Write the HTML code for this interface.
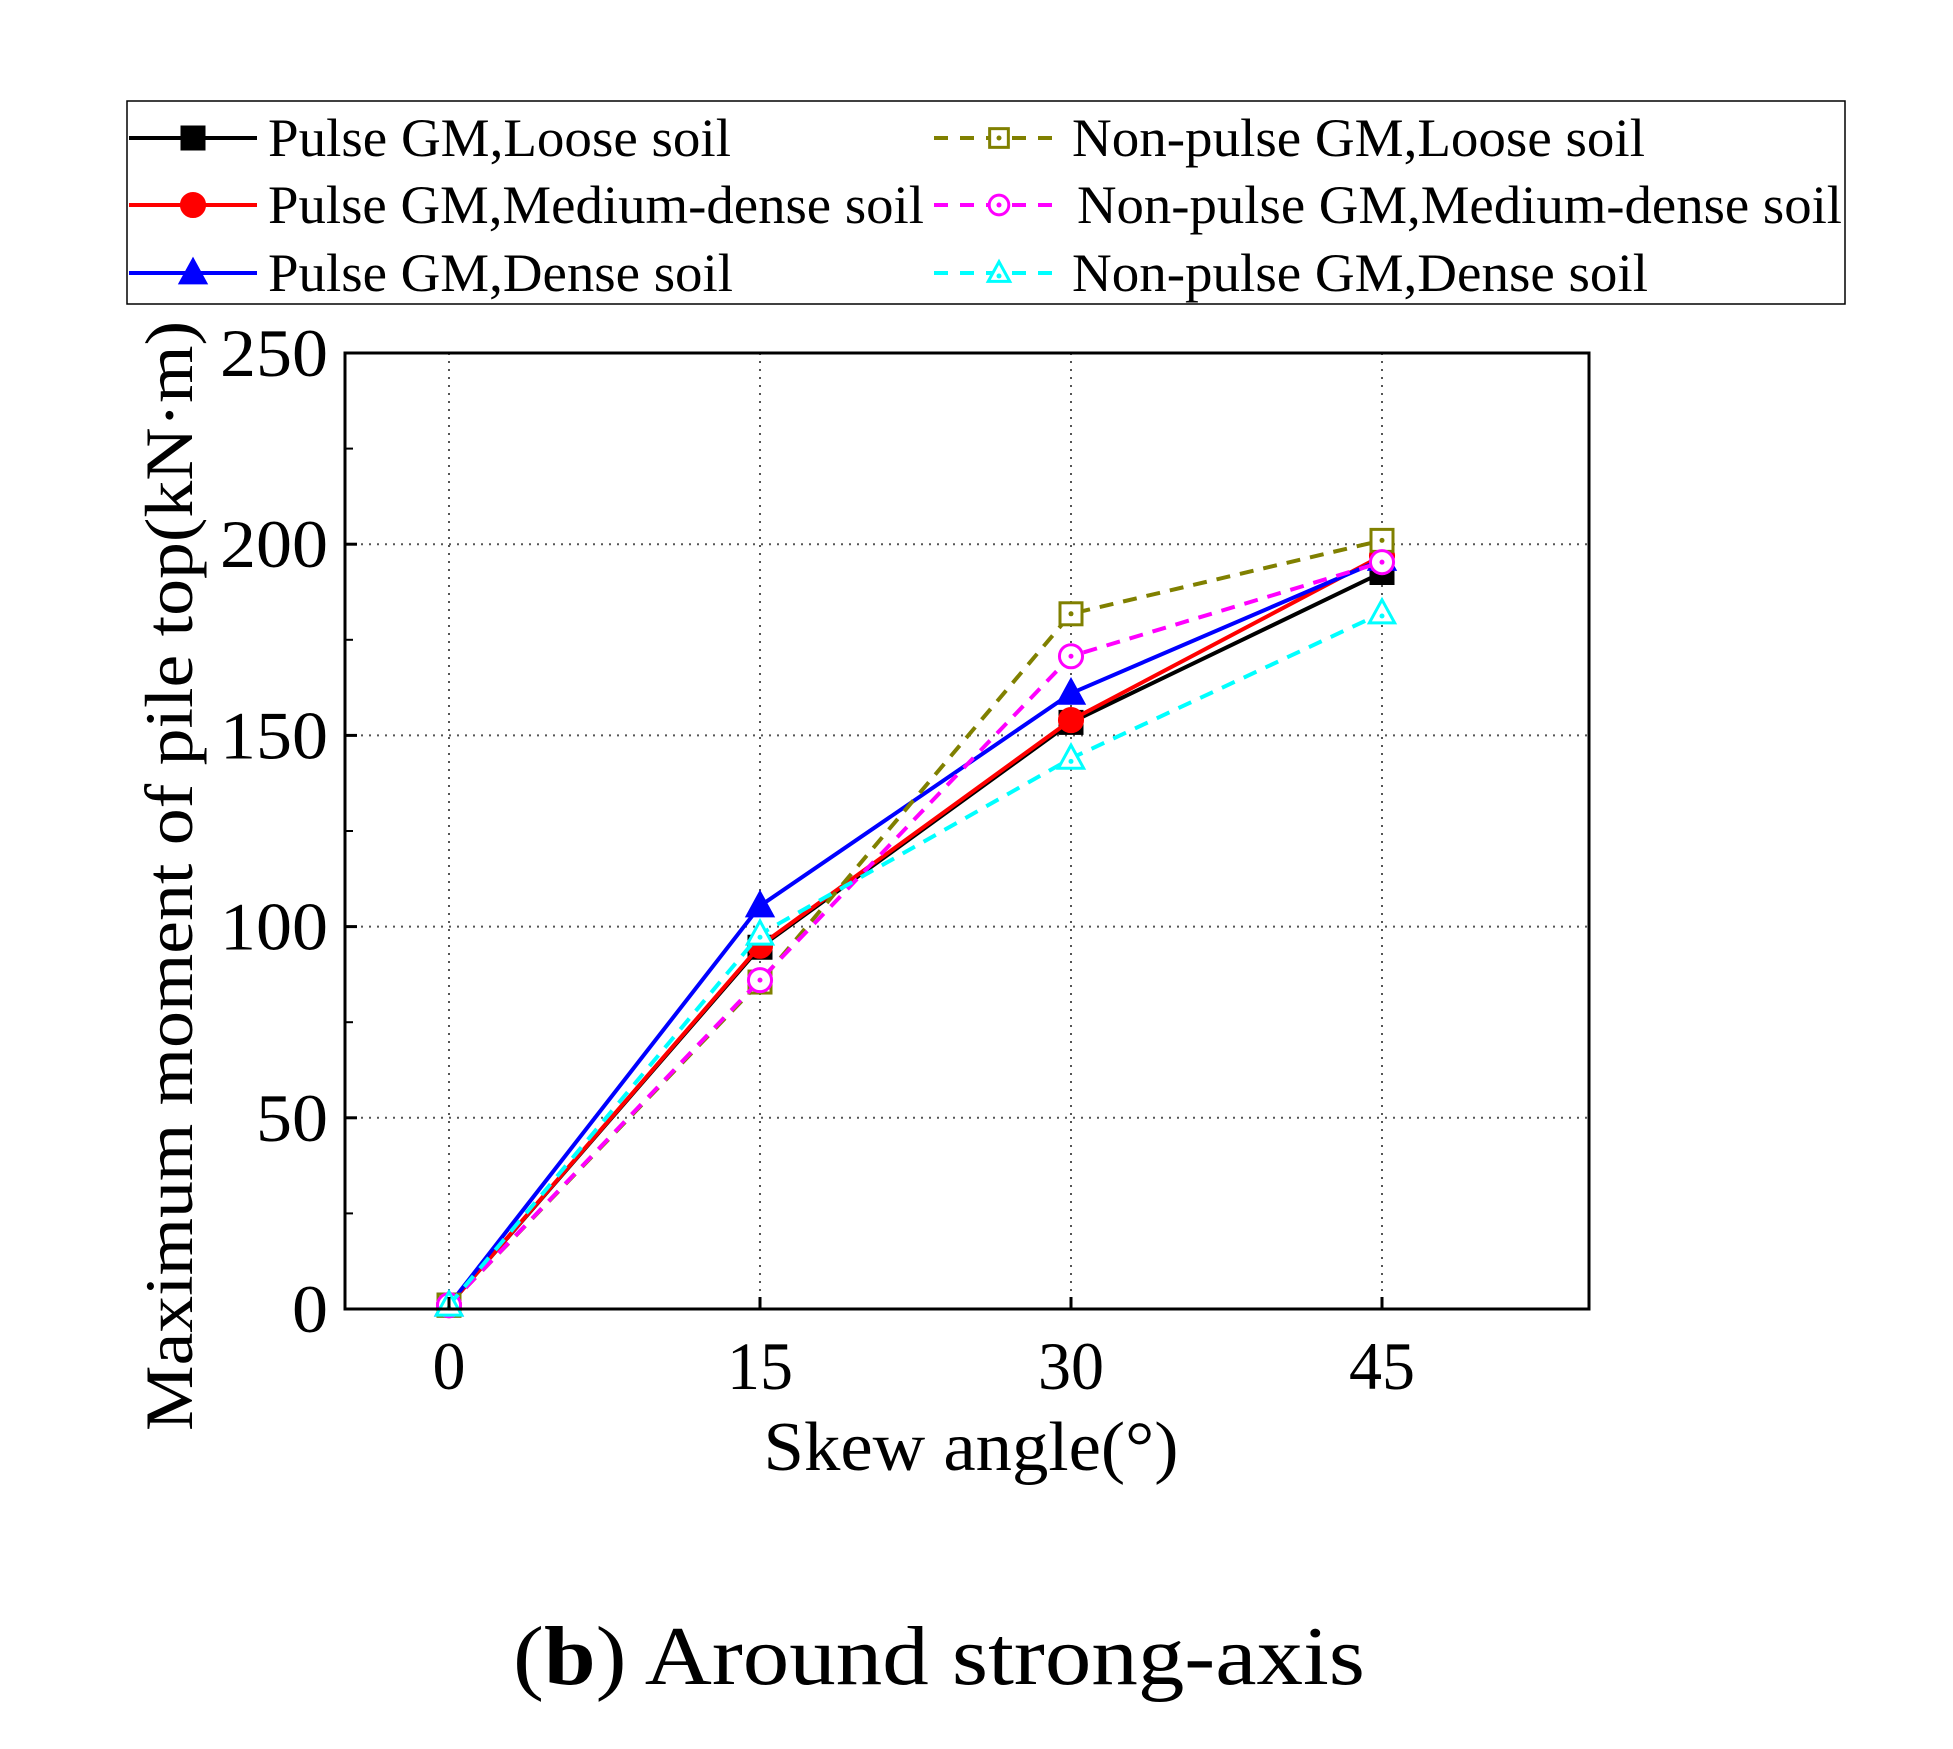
<!DOCTYPE html>
<html><head><meta charset="utf-8">
<style>
html,body{margin:0;padding:0;background:#fff;}
svg{display:block;}
text{font-family:"Liberation Serif",serif;fill:#000;}
</style></head>
<body>
<svg id="chart" width="1953" height="1749" viewBox="0 0 1953 1749" xmlns="http://www.w3.org/2000/svg">
<g id="grid"></g>
<g id="series"></g>
<rect x="345" y="353" width="1244" height="956" fill="none" stroke="#000" stroke-width="3"/>
<g id="ticks"></g>
<text x="971" y="1470" font-size="70" text-anchor="middle" textLength="415" lengthAdjust="spacingAndGlyphs">Skew angle(°)</text>
<text transform="translate(192,876) rotate(-90)" font-size="68" text-anchor="middle" textLength="1110" lengthAdjust="spacingAndGlyphs">Maximum moment of pile top(kN·m)</text>
<text x="939" y="1684" font-size="84" text-anchor="middle" textLength="852" lengthAdjust="spacingAndGlyphs">(<tspan font-weight="bold">b</tspan>) Around strong-axis</text>
<rect x="127" y="101" width="1718" height="203" fill="#fff" stroke="#000" stroke-width="1.5"/>
<g id="legend"></g>
</svg>
<script>
const categories = [0, 15, 30, 45];
const xTicks = [0, 15, 30, 45];
const yTicks = [0, 50, 100, 150, 200, 250];
const pulseLoose = [1, 94.6, 153.4, 192.6];
const pulseMedium = [1, 95, 154, 197];
const pulseDense = [1, 105.4, 161, 196];
const nonPulseLoose = [1, 85.5, 181.8, 201];
const nonPulseMedium = [1, 86, 170.7, 195.3];
const nonPulseDense = [1, 98, 144, 182];
const seriesNames = ["Pulse GM,Loose soil","Pulse GM,Medium-dense soil","Pulse GM,Dense soil","Non-pulse GM,Loose soil","Non-pulse GM,Medium-dense soil","Non-pulse GM,Dense soil"];

const NS = "http://www.w3.org/2000/svg";
function X(v){ return 449 + (v - 0) * (1382 - 449) / 45; }
function Y(v){ return 1309 - v * (1309 - 353) / 250; }
function mk(tag, attrs, parent){ const e = document.createElementNS(NS, tag); for (const k in attrs) e.setAttribute(k, attrs[k]); parent.appendChild(e); return e; }

const grid = document.getElementById('grid');
const ticks = document.getElementById('ticks');
xTicks.forEach(t => {
  const l = mk('line', {x1: X(t), x2: X(t), y1: 353, y2: 1309, stroke: '#555', 'stroke-width': 2, 'stroke-dasharray': '2 6'}, grid);
  
  
  const tk = mk('line', {x1: X(t), x2: X(t), y1: 1309, y2: 1297, stroke: '#000', 'stroke-width': 3}, ticks);
  
  
  const tx = mk('text', {x: X(t), y: 1389, 'font-size': 68, 'text-anchor': 'middle', textLength: String(t).length * 33, lengthAdjust: 'spacingAndGlyphs'}, ticks);
  tx.textContent = t;
  
  
});
yTicks.forEach((t, i) => {
  if (t > 0 && t < 250) {
    const l = mk('line', {x1: 345, x2: 1589, y1: Y(t), y2: Y(t), stroke: '#555', 'stroke-width': 2, 'stroke-dasharray': '2 6'}, grid);
    
    
  }
  const tk = mk('line', {x1: 345, x2: 357, y1: Y(t), y2: Y(t), stroke: '#000', 'stroke-width': 3}, ticks);
  
  
  if (i < yTicks.length - 1) {
    const m = mk('line', {x1: 345, x2: 353, y1: Y(t + 25), y2: Y(t + 25), stroke: '#000', 'stroke-width': 2}, ticks);
    
    
  }
  const tx = mk('text', {x: 328, y: Y(t) + 23, 'font-size': 68, 'text-anchor': 'end', textLength: String(t).length * 36, lengthAdjust: 'spacingAndGlyphs'}, ticks);
  tx.textContent = t;
  
  
});

const styles = [
  {c: '#000', dash: '', m: 'square', fill: true},
  {c: '#f00', dash: '', m: 'circle', fill: true},
  {c: '#00f', dash: '', m: 'triangle', fill: true},
  {c: '#808000', dash: '14 10', m: 'square', fill: false},
  {c: '#f0f', dash: '14 10', m: 'circle', fill: false},
  {c: '#0ff', dash: '14 10', m: 'triangle', fill: false}
];
const data = [pulseLoose, pulseMedium, pulseDense, nonPulseLoose, nonPulseMedium, nonPulseDense];

function marker(g, type, cx, cy, s, fill, scale) {
  const r = 11 * scale;
  const f = fill ? s.c : '#fff';
  let e;
  if (type === 'square') e = mk('rect', {x: cx - r, y: cy - r, width: 2 * r, height: 2 * r, fill: f, stroke: s.c, 'stroke-width': 3}, g);
  else if (type === 'circle') e = mk('circle', {cx: cx, cy: cy, r: r * 1.05, fill: f, stroke: s.c, 'stroke-width': 3}, g);
  else e = mk('polygon', {points: `${cx},${cy - r * 1.2} ${cx - r * 1.15},${cy + r * 0.9} ${cx + r * 1.15},${cy + r * 0.9}`, fill: f, stroke: s.c, 'stroke-width': 3}, g);
  
  
  if (!fill) {
    const d = mk('circle', {cx: cx, cy: cy + (type === 'triangle' ? 3 : 0), r: 2.5, fill: s.c}, g);
    
    
  }
}

const sg = document.getElementById('series');
data.forEach((vals, si) => {
  const s = styles[si];
  const g = mk('g', {}, sg);
  
  
  const pts = vals.map((v, i) => X(categories[i]) + ',' + Y(v)).join(' ');
  const pl = mk('polyline', {points: pts, fill: 'none', stroke: s.c, 'stroke-width': 4, 'stroke-dasharray': s.dash}, g);
  
  
  vals.forEach((v, i) => marker(g, s.m, X(categories[i]), Y(v), s, s.fill, 1));
});

const lg = document.getElementById('legend');
const rowsY = [138, 205, 273];
const textW = [463, 656, 465, 573, 765, 576];
seriesNames.forEach((name, i) => {
  const s = styles[i];
  const col = i < 3 ? 0 : 1;
  const row = i % 3;
  const g = mk('g', {}, lg);
  
  
  const x0 = col === 0 ? 129 : 934, x1 = col === 0 ? 257 : 1064;
  const cy = rowsY[row];
  const ln = mk('line', {x1: x0, x2: x1, y1: cy, y2: cy, stroke: s.c, 'stroke-width': 4, 'stroke-dasharray': col === 1 ? '14 12' : ''}, g);
  
  
  marker(g, s.m, (x0 + x1) / 2, cy, s, s.fill, col === 0 ? 1 : 0.85);
  const tx = mk('text', {x: col === 0 ? 268 : 1072 + (row === 1 ? 5 : 0), y: rowsY[row] + 18, 'font-size': 54, textLength: textW[i], lengthAdjust: 'spacingAndGlyphs'}, g);
  tx.textContent = name;
  
  
});
</script>
</body></html>
